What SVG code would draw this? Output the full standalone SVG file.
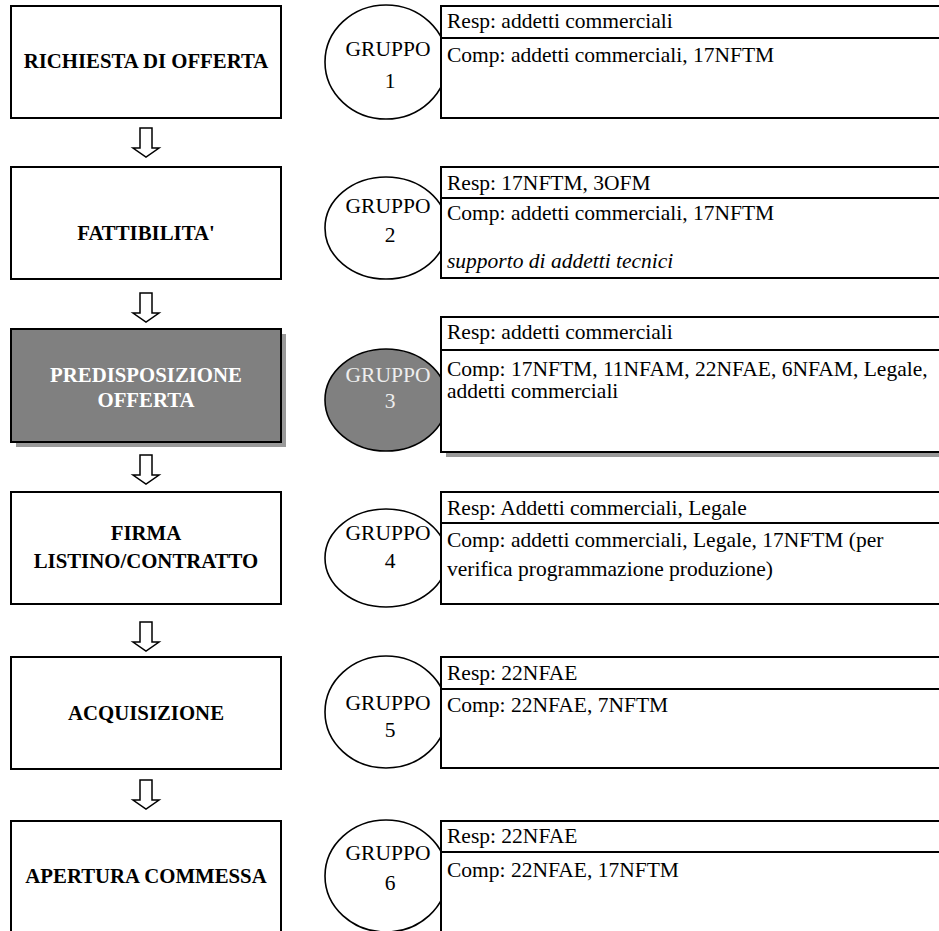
<svg xmlns="http://www.w3.org/2000/svg" width="939" height="931" viewBox="0 0 939 931">
<style>
.box{fill:#fff;stroke:#000;stroke-width:2}
.gbox{fill:#808080;stroke:#000;stroke-width:2}
.sh{fill:#999;stroke:none}
.ell{fill:#fff;stroke:#000;stroke-width:1.6}
.gell{fill:#808080;stroke:#000;stroke-width:1.6}
.div{stroke:#000;stroke-width:2}
.t{font-family:"Liberation Serif","Times New Roman",serif;font-size:21.5px;fill:#000}
.b{font-family:"Liberation Serif","Times New Roman",serif;font-size:20.8px;font-weight:bold;fill:#000;text-anchor:middle}
.g{font-family:"Liberation Serif","Times New Roman",serif;font-size:21.5px;fill:#000;text-anchor:middle}
.w{fill:#fff}
.lw{fill:#eee}
.i{font-style:italic}
.arr{fill:#fff;stroke:#000;stroke-width:1.5}
</style>
<defs>
<path id="arrow" d="M140,0 V20 H133 L146,29 L159,20 H152 V0 Z"/>
</defs>
<g id="connectors">
<use href="#arrow" class="arr" y="128"/>
<use href="#arrow" class="arr" y="293"/>
<use href="#arrow" class="arr" y="455"/>
<use href="#arrow" class="arr" y="622"/>
<use href="#arrow" class="arr" y="780"/>
</g>
<g id="step1">
<rect class="box" x="11" y="6" width="270" height="112"/>
<text class="b" x="146" y="68">RICHIESTA DI OFFERTA</text>
</g>
<g id="group1">
<ellipse class="ell" cx="386" cy="62" rx="61" ry="57"/>
<text class="g" x="388" y="56">GRUPPO</text>
<text class="g" x="390" y="88">1</text>
</g>
<g id="roles1">
<rect class="box" x="441" y="6" width="510" height="112"/>
<line class="div" x1="441" y1="38" x2="945" y2="38"/>
<text class="t" x="447" y="28">Resp: addetti commerciali</text>
<text class="t" x="447" y="62">Comp: addetti commerciali, 17NFTM</text>
</g>
<g id="step2">
<rect class="box" x="11" y="167" width="270" height="112"/>
<text class="b" x="146" y="240">FATTIBILITA'</text>
</g>
<g id="group2">
<ellipse class="ell" cx="386" cy="228" rx="61" ry="51"/>
<text class="g" x="388" y="213">GRUPPO</text>
<text class="g" x="390" y="242">2</text>
</g>
<g id="roles2">
<rect class="box" x="441" y="167" width="510" height="111"/>
<line class="div" x1="441" y1="198" x2="945" y2="198"/>
<text class="t" x="447" y="190">Resp: 17NFTM, 3OFM</text>
<text class="t" x="447" y="220">Comp: addetti commerciali, 17NFTM</text>
<text class="t i" x="447" y="268">supporto di addetti tecnici</text>
</g>
<g id="step3">
<rect class="sh" x="16" y="334" width="270" height="113"/>
<rect class="gbox" x="11" y="329" width="270" height="113"/>
<text class="b w" x="146" y="382">PREDISPOSIZIONE</text>
<text class="b w" x="146" y="407">OFFERTA</text>
</g>
<g id="group3">
<ellipse class="gell" cx="386" cy="400" rx="61" ry="51"/>
<text class="g lw" x="388" y="382">GRUPPO</text>
<text class="g lw" x="390" y="408">3</text>
</g>
<g id="roles3">
<rect class="sh" x="446" y="322" width="510" height="135"/>
<rect class="box" x="441" y="317" width="510" height="135"/>
<line class="div" x1="441" y1="350" x2="945" y2="350"/>
<text class="t" x="447" y="339">Resp: addetti commerciali</text>
<text class="t" x="447" y="376">Comp: 17NFTM, 11NFAM, 22NFAE, 6NFAM, Legale,</text>
<text class="t" x="447" y="398">addetti commerciali</text>
</g>
<g id="step4">
<rect class="box" x="11" y="492" width="270" height="112"/>
<text class="b" x="146" y="540">FIRMA</text>
<text class="b" x="146" y="568">LISTINO/CONTRATTO</text>
</g>
<g id="group4">
<ellipse class="ell" cx="386" cy="558" rx="61" ry="49"/>
<text class="g" x="388" y="540">GRUPPO</text>
<text class="g" x="390" y="568">4</text>
</g>
<g id="roles4">
<rect class="box" x="441" y="492" width="510" height="112"/>
<line class="div" x1="441" y1="523" x2="945" y2="523"/>
<text class="t" x="447" y="515">Resp: Addetti commerciali, Legale</text>
<text class="t" x="447" y="547">Comp: addetti commerciali, Legale, 17NFTM (per</text>
<text class="t" x="447" y="576">verifica programmazione produzione)</text>
</g>
<g id="step5">
<rect class="box" x="11" y="657" width="270" height="112"/>
<text class="b" x="146" y="720">ACQUISIZIONE</text>
</g>
<g id="group5">
<ellipse class="ell" cx="386" cy="712" rx="61" ry="56"/>
<text class="g" x="388" y="710">GRUPPO</text>
<text class="g" x="390" y="737">5</text>
</g>
<g id="roles5">
<rect class="box" x="441" y="657" width="510" height="111"/>
<line class="div" x1="441" y1="689" x2="945" y2="689"/>
<text class="t" x="447" y="680">Resp: 22NFAE</text>
<text class="t" x="447" y="712">Comp: 22NFAE, 7NFTM</text>
</g>
<g id="step6">
<rect class="box" x="11" y="821" width="270" height="130"/>
<text class="b" x="146" y="883">APERTURA COMMESSA</text>
</g>
<g id="group6">
<ellipse class="ell" cx="386" cy="876" rx="61" ry="56"/>
<text class="g" x="388" y="860">GRUPPO</text>
<text class="g" x="390" y="890">6</text>
</g>
<g id="roles6">
<rect class="box" x="441" y="821" width="510" height="130"/>
<line class="div" x1="441" y1="852" x2="945" y2="852"/>
<text class="t" x="447" y="843">Resp: 22NFAE</text>
<text class="t" x="447" y="877">Comp: 22NFAE, 17NFTM</text>
</g>
</svg>
